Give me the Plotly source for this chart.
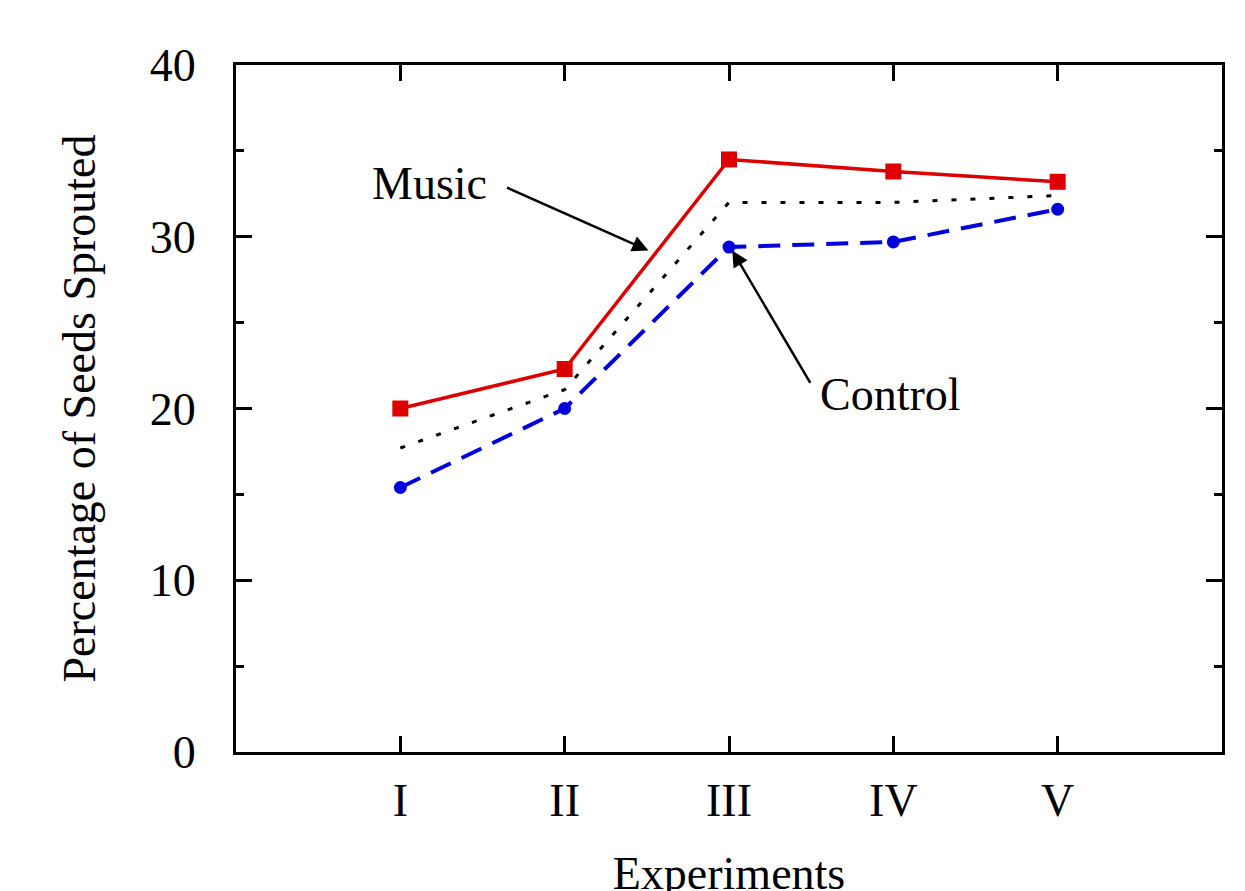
import plotly.graph_objects as go

experiments = [1, 2, 3, 4, 5]
tick_labels = ["I", "II", "III", "IV", "V"]
music = [20.0, 22.3, 34.5, 33.8, 33.2]
control = [15.4, 20.0, 29.4, 29.7, 31.6]
average = [17.7, 21.1, 32.0, 32.0, 32.4]

FONT = "Liberation Serif, Times New Roman, serif"
FS = 46

fig = go.Figure()
fig.add_trace(go.Scatter(x=experiments, y=average, mode="lines",
                         line=dict(color="black", width=3, dash="5px,14px"),
                         showlegend=False))
fig.add_trace(go.Scatter(x=experiments, y=control, mode="lines+markers",
                         line=dict(color="#0000dd", width=4, dash="22px,12px"),
                         marker=dict(symbol="circle", size=13, color="#0000dd"),
                         showlegend=False))
fig.add_trace(go.Scatter(x=experiments, y=music, mode="lines+markers",
                         line=dict(color="#dd0000", width=3.5),
                         marker=dict(symbol="square", size=16, color="#dd0000"),
                         showlegend=False))

# labels
fig.add_annotation(x=1.18, y=33.1, xref="x", yref="y", text="Music", showarrow=False,
                   font=dict(family=FONT, size=FS, color="black"))
fig.add_annotation(x=3.98, y=20.8, xref="x", yref="y", text="Control", showarrow=False,
                   font=dict(family=FONT, size=FS, color="black"))
# arrows
fig.add_annotation(x=2.51, y=29.2, ax=1.64, ay=32.9, xref="x", yref="y", axref="x", ayref="y",
                   text="", showarrow=True, arrowhead=2, arrowsize=1.3, arrowwidth=2.5,
                   arrowcolor="black")
fig.add_annotation(x=3.02, y=29.2, ax=3.50, ay=21.4, xref="x", yref="y", axref="x", ayref="y",
                   text="", showarrow=True, arrowhead=2, arrowsize=1.3, arrowwidth=2.5,
                   arrowcolor="black")

fig.update_layout(
    width=1245, height=891,
    margin=dict(l=228, r=31, t=57, b=147, autoexpand=False),
    paper_bgcolor="white", plot_bgcolor="white",
    font=dict(family=FONT, size=FS, color="black"),
)
fig.update_xaxes(
    range=[0, 6], tickvals=experiments, ticktext=tick_labels,
    showline=True, linecolor="black", linewidth=3, mirror="ticks",
    ticks="inside", ticklen=16, tickwidth=3, tickcolor="black",
    ticklabelstandoff=6,
    showgrid=False, zeroline=False,
    title=dict(text="Experiments", standoff=36, font=dict(family=FONT, size=FS)),
    tickfont=dict(family=FONT, size=FS),
)
fig.update_yaxes(
    range=[0, 40], tickvals=[0, 10, 20, 30, 40],
    showline=True, linecolor="black", linewidth=3, mirror="ticks",
    ticks="inside", ticklen=16, tickwidth=3, tickcolor="black",
    ticklabelstandoff=28,
    minor=dict(tickvals=[5, 15, 25, 35], ticks="inside", ticklen=8, tickwidth=3,
               tickcolor="black", showgrid=False),
    showgrid=False, zeroline=False,
    title=dict(text="Percentage of Seeds Sprouted", standoff=40, font=dict(family=FONT, size=FS)),
    tickfont=dict(family=FONT, size=FS),
)

fig.write_html("out.html")
